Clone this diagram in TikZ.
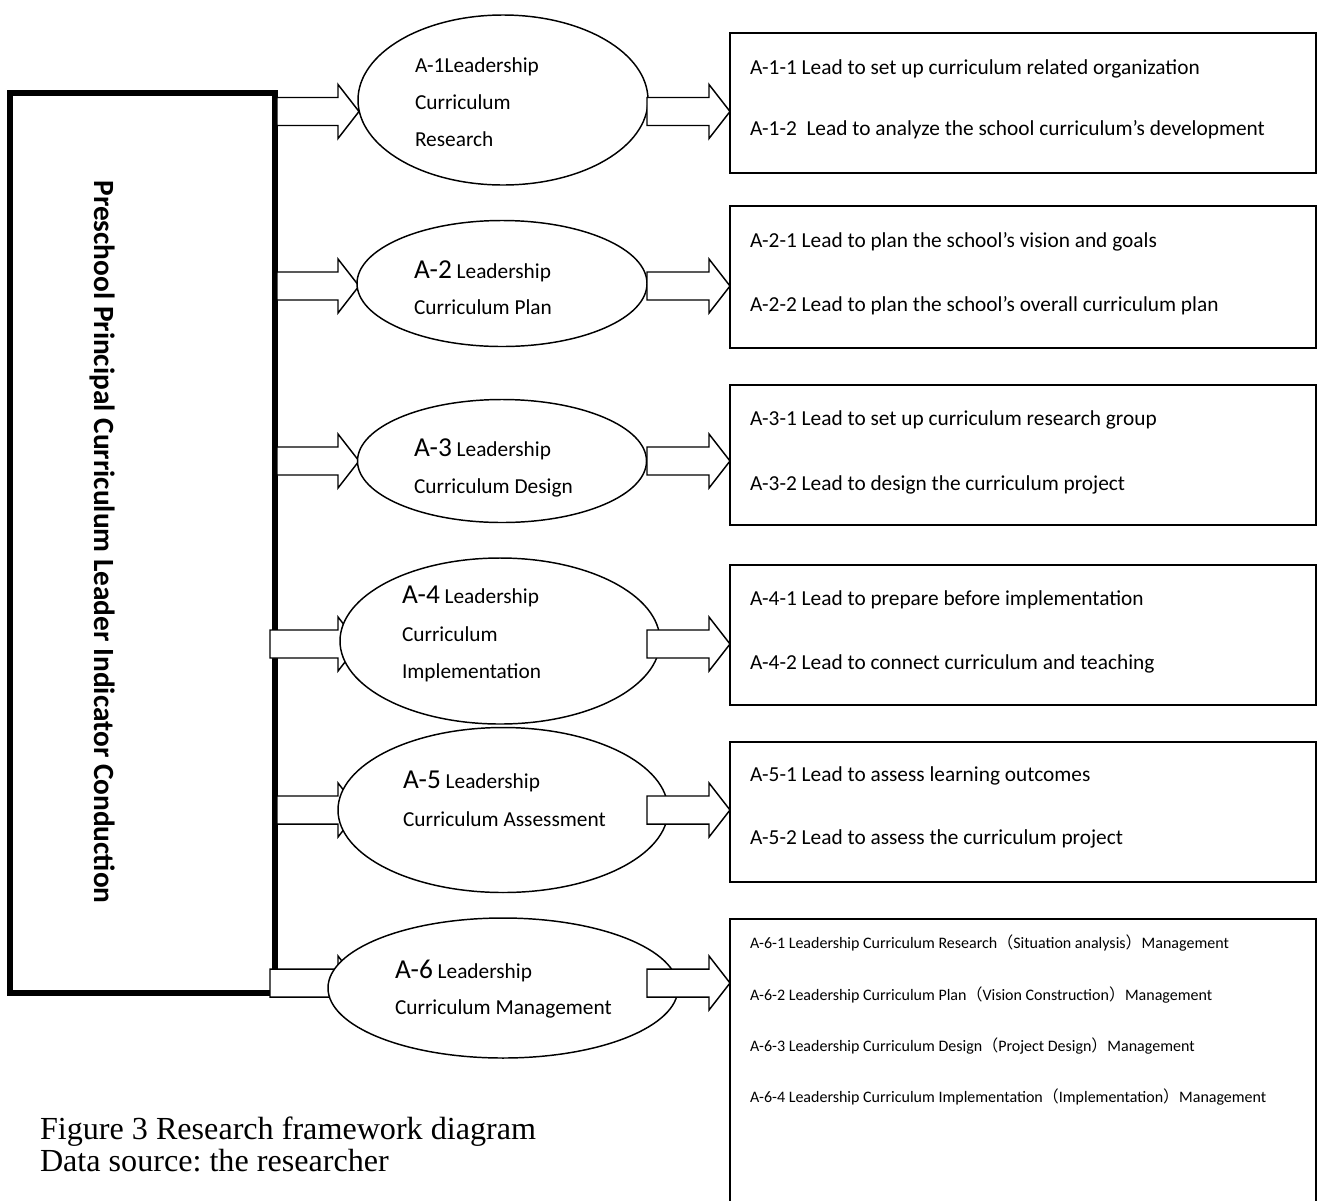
\documentclass[tikz,border=0pt]{standalone}
\usepackage{fontspec}
\setmainfont{Carlito}
\newfontfamily\capfont{Liberation Serif}
\newfontfamily\cjk{Noto Sans CJK SC}
\usetikzlibrary{shapes.geometric,calc}
\frenchspacing

% larger code label at the start of an ellipse text
\newcommand\codetag[1]{{\fontsize{20.5}{24}\selectfont #1}}

% block arrow: shaft from #1 to the tip at #2 (same height as #1)
\newcommand\blockarrow[2]{%
  \draw[blk] let \p1=#1, \p2=#2 in
    (\x1,\y1+10.5pt) -- (\x2-15.75pt,\y1+10.5pt) -- (\x2-15.75pt,\y1+20.25pt)
    -- (\x2,\y1) -- (\x2-15.75pt,\y1-20.25pt) -- (\x2-15.75pt,\y1-10.5pt)
    -- (\x1,\y1-10.5pt) -- cycle;}

\begin{document}
\begin{tikzpicture}[x=0.75pt,y=-0.75pt,
  every node/.style={inner sep=0pt,outer sep=0pt},
  blk/.style={draw,fill=white,line width=1.1pt,line join=miter},
  topic/.style={draw,fill=white,ellipse,line width=1.1pt},
  detail/.style={draw,fill=white,rectangle,line width=1.1pt,anchor=north west,
    minimum width=586*0.75pt},
  txt/.style={anchor=base west,font=\fontsize{16}{19}\selectfont},
  small/.style={anchor=base west,font=\fontsize{12}{14}\selectfont},
  caption/.style={anchor=base west,font=\capfont\fontsize{24.1}{27}\selectfont}]
\useasboundingbox (0,0) rectangle (1319,1200);
\clip (0,0) rectangle (1319,1200);
\fill[white] (0,0) rectangle (1319,1200);

% main frame on the left
\node[draw,line width=4.5pt,anchor=north west,minimum width=264.5*0.75pt,
  minimum height=900*0.75pt] (L) at (10,93) {};
\node[rotate=-90,font=\bfseries\fontsize{22}{24}\selectfont] (Ltitle) at (103,542)
  {Preschool Principal Curriculum Leader Indicator Conduction};

% points where the arrows meet the ellipses and the boxes
\coordinate (i1) at (359,111.5);
\coordinate (i2) at (359,286);
\coordinate (i3) at (359,461);
\coordinate (i4) at (359,644);
\coordinate (i5) at (359,810);
\coordinate (i6) at (359,983);
\coordinate (s1) at (277,111.5);
\coordinate (s2) at (277,286);
\coordinate (s3) at (277,461);
\coordinate (s4) at (270,644);
\coordinate (s5) at (277,810);
\coordinate (s6) at (270,983);

% arrows from the frame to the ellipses
\blockarrow{(s1)}{(i1)}
\blockarrow{(s2)}{(i2)}
\blockarrow{(s3)}{(i3)}
\blockarrow{(s4)}{(i4)}
\blockarrow{(s5)}{(i5)}
\blockarrow{(s6)}{(i6)}

% ellipses
\node[topic,minimum width=290*0.75pt,minimum height=170*0.75pt] (E1) at (503,100) {};
\node[topic,minimum width=290*0.75pt,minimum height=126*0.75pt] (E2) at (502,283.5) {};
\node[topic,minimum width=289*0.75pt,minimum height=123*0.75pt] (E3) at (502,461) {};
\node[topic,minimum width=320*0.75pt,minimum height=166*0.75pt] (E4) at (500,641) {};
\node[topic,minimum width=330*0.75pt,minimum height=165*0.75pt] (E5) at (503,810) {};
\node[topic,minimum width=350*0.75pt,minimum height=140*0.75pt] (E6) at (503,988) {};

% detail boxes
\node[detail,minimum height=140*0.75pt] (B1) at (730,33) {};
\node[detail,minimum height=142*0.75pt] (B2) at (730,206) {};
\node[detail,minimum height=140*0.75pt] (B3) at (730,385) {};
\node[detail,minimum height=140*0.75pt] (B4) at (730,565) {};
\node[detail,minimum height=140*0.75pt] (B5) at (730,742) {};
\node[detail,minimum height=340*0.75pt] (B6) at (730,919) {};

% arrows from the ellipses to the boxes
\coordinate (o1) at (647,111.5);
\coordinate (o2) at (647,286);
\coordinate (o3) at (647,461);
\coordinate (o4) at (647,644);
\coordinate (o5) at (647,810);
\coordinate (o6) at (647,983);
\blockarrow{(o1)}{(B1.west |- o1)}
\blockarrow{(o2)}{(B2.west |- o2)}
\blockarrow{(o3)}{(B3.west |- o3)}
\blockarrow{(o4)}{(B4.west |- o4)}
\blockarrow{(o5)}{(B5.west |- o5)}
\blockarrow{(o6)}{(B6.west |- o6)}

% ellipse labels
\node[txt] (t11) at (415,72) {A-1Leadership};
\node[txt] (t12) at (415,109) {Curriculum};
\node[txt] (t13) at (415,146) {Research};
\node[txt] (t21) at (414,278) {\codetag{A-2} Leadership};
\node[txt] (t22) at (414,314) {Curriculum Plan};
\node[txt] (t31) at (414,456) {\codetag{A-3} Leadership};
\node[txt] (t32) at (414,493) {Curriculum Design};
\node[txt] (t41) at (402,603) {\codetag{A-4} Leadership};
\node[txt] (t42) at (402,641) {Curriculum};
\node[txt] (t43) at (402,678) {Implementation};
\node[txt] (t51) at (403,788) {\codetag{A-5} Leadership};
\node[txt] (t52) at (403,826) {Curriculum Assessment};
\node[txt] (t61) at (395,978) {\codetag{A-6} Leadership};
\node[txt] (t62) at (395,1014) {Curriculum Management};

% box contents
\node[txt] (b11) at (750,74) {A-1-1 Lead to set up curriculum related organization};
\node[txt] (b12) at (750,135) {A-1-2\ \ Lead to analyze the school curriculum’s development};
\node[txt] (b21) at (750,247) {A-2-1 Lead to plan the school’s vision and goals};
\node[txt] (b22) at (750,311) {A-2-2 Lead to plan the school’s overall curriculum plan};
\node[txt] (b31) at (750,425) {A-3-1 Lead to set up curriculum research group};
\node[txt] (b32) at (750,490) {A-3-2 Lead to design the curriculum project};
\node[txt] (b41) at (750,605) {A-4-1 Lead to prepare before implementation};
\node[txt] (b42) at (750,669) {A-4-2 Lead to connect curriculum and teaching};
\node[txt] (b51) at (750,781) {A-5-1 Lead to assess learning outcomes};
\node[txt] (b52) at (750,844) {A-5-2 Lead to assess the curriculum project};
\node[small] (b61) at (750,948) {A-6-1 Leadership Curriculum Research{\cjk （}Situation analysis{\cjk ）}Management};
\node[small] (b62) at (750,1000) {A-6-2 Leadership Curriculum Plan{\cjk （}Vision Construction{\cjk ）}Management};
\node[small] (b63) at (750,1051) {A-6-3 Leadership Curriculum Design{\cjk （}Project Design{\cjk ）}Management};
\node[small] (b64) at (750,1102) {A-6-4 Leadership Curriculum Implementation{\cjk （}Implementation{\cjk ）}Management};

% caption
\node[caption] (cap1) at (40,1139) {Figure 3 Research framework diagram};
\node[caption] (cap2) at (40,1171) {Data source: the researcher};
\end{tikzpicture}
\end{document}
